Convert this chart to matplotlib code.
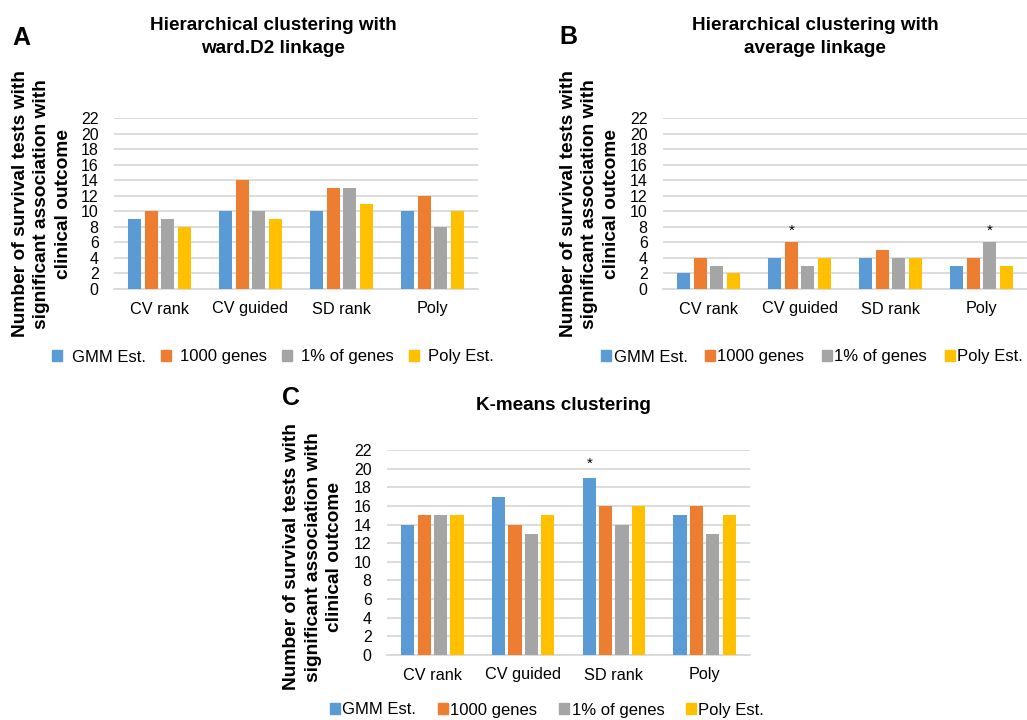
import matplotlib
matplotlib.use('Agg')
import matplotlib.pyplot as plt
import matplotlib.patches as mpatches
import numpy as np

plt.rcParams['font.family'] = ['Liberation Sans', 'DejaVu Sans']

categories = ['CV rank', 'CV guided', 'SD rank', 'Poly']
series_names = ['GMM Est.', '1000 genes', '1% of genes', 'Poly Est.']
colors = ['#5B9BD5', '#ED7D31', '#A5A5A5', '#FFC000']

# values per series (GMM, 1000 genes, 1%, Poly Est.) for each category
ward_vals = [[9, 10, 10, 10],
             [10, 14, 13, 12],
             [9, 10, 13, 8],
             [8, 9, 11, 10]]
avg_vals = [[2, 4, 4, 3],
            [4, 6, 5, 4],
            [3, 3, 4, 6],
            [2, 4, 4, 3]]
km_vals = [[14, 17, 19, 15],
           [15, 14, 16, 16],
           [15, 13, 14, 13],
           [15, 15, 16, 15]]

# significance stars: (category index, series index)
avg_stars = [(1, 1), (3, 2)]
km_stars = [(2, 0)]

yticks = list(range(0, 23, 2))

W, H = 1027, 720
fig = plt.figure(figsize=(W / 100, H / 100), dpi=100)


def px_axes(x0, y0, x1, y1):
    return fig.add_axes([x0 / W, 1 - y1 / H, (x1 - x0) / W, (y1 - y0) / H])


def draw_panel(ax, vals, stars):
    x = np.arange(len(categories))
    step, width = 0.181, 0.146
    for i, s in enumerate(vals):
        ax.bar(x + (i - 1.5) * step, s, width=width, color=colors[i], zorder=3)
    for c, i in stars:
        ax.text(c + (i - 1.5) * step, vals[i][c] + 1.5, '*', ha='center',
                va='center', fontsize=11)
    ax.set_xlim(-0.5, len(categories) - 0.5)
    ax.set_ylim(0, 22)
    ax.set_yticks(yticks)
    ax.set_xticks(x)
    ax.set_xticklabels(categories, fontsize=11.7)
    ax.tick_params(axis='y', length=0, pad=11, labelsize=11.5, colors='#000000')
    ax.tick_params(axis='x', length=0, pad=9)
    ax.grid(axis='y', color='#D9D9D9', linewidth=1.3, zorder=0)
    for sp in ['top', 'right', 'left']:
        ax.spines[sp].set_visible(False)
    ax.spines['bottom'].set_color('#D9D9D9')
    ax.spines['bottom'].set_linewidth(1.3)


ylab = 'Number of survival tests with\nsignificant association with\nclinical outcome'
handles = [mpatches.Patch(color=c) for c in colors]

# panel A
axA = px_axes(114, 118, 478, 289)
draw_panel(axA, ward_vals, [])
fig.text(273 / W, 1 - 37 / H, 'Hierarchical clustering with\nward.D2 linkage',
         ha='center', va='center', fontsize=13.6, fontweight='bold', linespacing=1.45)
fig.text(12 / W, 1 - 38 / H, 'A', ha='left', va='center', fontsize=18, fontweight='bold')
fig.text(42 / W, 1 - 204 / H, ylab, rotation=90, ha='center', va='center',
         fontsize=13.8, fontweight='bold', multialignment='center', linespacing=1.35)
fig.legend(handles, series_names, loc='center', bbox_to_anchor=(273 / W, 1 - 357 / H),
           ncol=4, frameon=False, fontsize=12, handlelength=0.6, handleheight=0.6,
           handletextpad=0.55, columnspacing=0.9)

# panel B
axB = px_axes(663, 118, 1027, 289)
draw_panel(axB, avg_vals, avg_stars)
fig.text(815 / W, 1 - 37 / H, 'Hierarchical clustering with\naverage linkage',
         ha='center', va='center', fontsize=13.6, fontweight='bold', linespacing=1.45)
fig.text(559 / W, 1 - 37 / H, 'B', ha='left', va='center', fontsize=18, fontweight='bold')
fig.text(590 / W, 1 - 204 / H, ylab, rotation=90, ha='center', va='center',
         fontsize=13.8, fontweight='bold', multialignment='center', linespacing=1.35)
fig.legend(handles, series_names, loc='center', bbox_to_anchor=(812 / W, 1 - 357 / H),
           ncol=4, frameon=False, fontsize=12, handlelength=0.6, handleheight=0.6,
           handletextpad=0.15, columnspacing=1.05)

# panel C
axC = px_axes(387, 450, 750, 655)
draw_panel(axC, km_vals, km_stars)
fig.text(563 / W, 1 - 405 / H, 'K-means clustering',
         ha='center', va='center', fontsize=13.6, fontweight='bold')
fig.text(282 / W, 1 - 398 / H, 'C', ha='left', va='center', fontsize=18, fontweight='bold')
fig.text(313 / W, 1 - 557 / H, ylab, rotation=90, ha='center', va='center',
         fontsize=13.8, fontweight='bold', multialignment='center', linespacing=1.35)
fig.legend(handles, series_names, loc='center', bbox_to_anchor=(547 / W, 1 - 710 / H),
           ncol=4, frameon=False, fontsize=12, handlelength=0.6, handleheight=0.6,
           handletextpad=0.15, columnspacing=1.3)

fig.savefig('out.png', dpi=100)
